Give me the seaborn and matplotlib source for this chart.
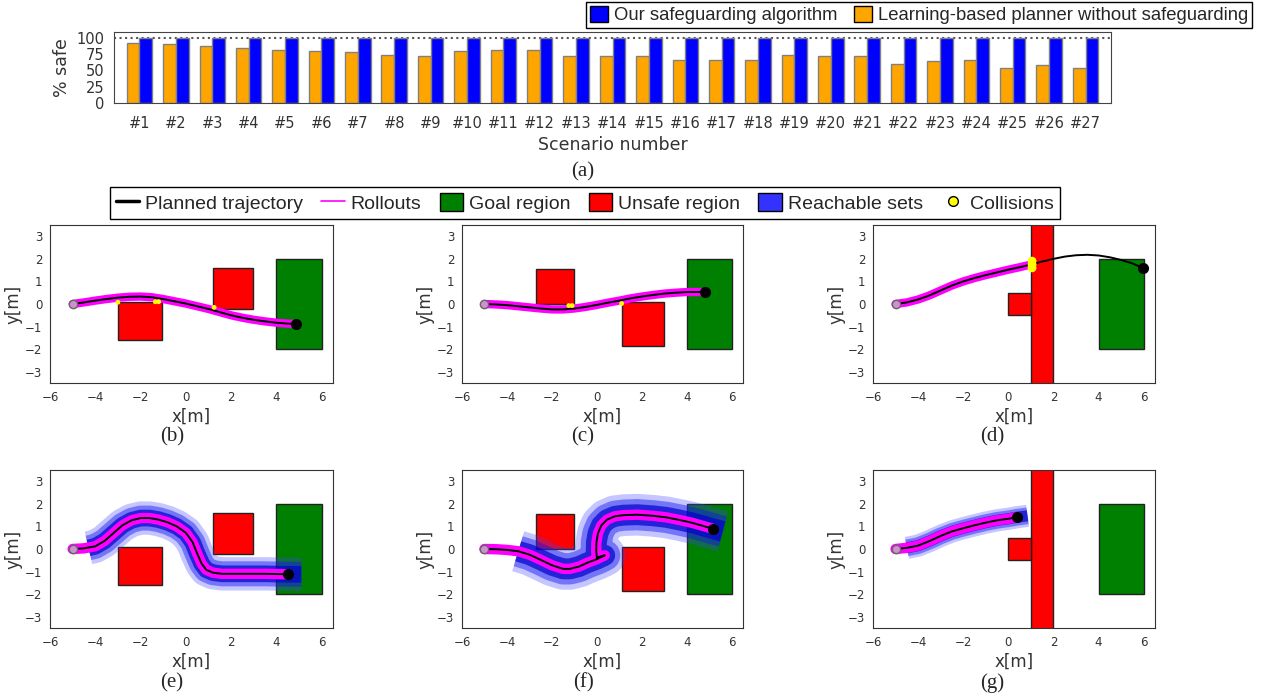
import pandas as pd
import matplotlib
matplotlib.use("Agg")
import matplotlib.pyplot as plt
import seaborn as sns
from matplotlib.patches import Patch, Rectangle
from matplotlib.lines import Line2D

# === Bar chart data ===
scenarios = [f"#{i}" for i in range(1, 28)]
baseline_safe = [92, 90, 88, 84, 82, 80, 78, 74, 72, 80, 82, 82, 72, 72,
                 72, 66, 66, 66, 74, 72, 72, 60, 64, 66, 54, 58, 54]
ours_safe = [100, 100, 100, 100, 100, 100, 100, 100, 100, 100, 100, 100, 100, 100,
             100, 100, 100, 100, 100, 100, 100, 100, 100, 100, 100, 100, 100]
ours_label = "Our safeguarding algorithm"
base_label = "Learning-based planner without safeguarding"

# === Scenario geometry (x, y, width, height) ===
goal = [(4.0, -2.0, 2.0, 4.0)]
unsafe_b = [(-3.0, -1.6, 1.95, 1.7), (1.2, -0.2, 1.75, 1.8)]
unsafe_c = [(-2.7, 0.0, 1.7, 1.55), (1.1, -1.85, 1.9, 1.92)]
unsafe_d = [(1.0, -3.6, 1.0, 7.2), (0.0, -0.5, 1.0, 1.0)]

# === Planned trajectories ===
traj_b_x = [-5, -4.5, -4, -3.5, -3, -2.5, -2, -1.5, -1, -0.5, 0, 0.5, 1, 1.5, 2, 2.5, 3, 3.5, 4, 4.5, 4.85]
traj_b_y = [0, 0.07, 0.15, 0.22, 0.28, 0.32, 0.33, 0.3, 0.22, 0.12, 0.02, -0.1, -0.22, -0.36, -0.5, -0.61, -0.7, -0.77, -0.83, -0.87, -0.88]

traj_c_x = [-5, -4.5, -4, -3.5, -3, -2.5, -2, -1.5, -1, -0.5, 0, 0.5, 1, 1.5, 2, 2.5, 3, 3.5, 4, 4.5, 4.8]
traj_c_y = [0, -0.02, -0.05, -0.1, -0.15, -0.2, -0.24, -0.24, -0.2, -0.13, -0.04, 0.06, 0.15, 0.25, 0.33, 0.4, 0.46, 0.5, 0.53, 0.53, 0.53]

traj_d_x = [-5, -4.5, -4, -3.5, -3, -2.5, -2, -1.5, -1, -0.5, 0, 0.5, 1, 1.5, 2, 2.5, 3, 3.5, 4, 4.5, 5, 5.5, 5.95]
traj_d_y = [0, 0.07, 0.2, 0.38, 0.6, 0.82, 1.0, 1.15, 1.28, 1.4, 1.52, 1.63, 1.75, 1.88, 2.0, 2.1, 2.16, 2.18, 2.15, 2.07, 1.95, 1.8, 1.6]
roll_d_x = [-5, -4.5, -4, -3.5, -3, -2.5, -2, -1.5, -1, -0.5, 0, 0.5, 1.0]
roll_d_y = [0, 0.07, 0.2, 0.38, 0.6, 0.82, 1.0, 1.15, 1.28, 1.4, 1.52, 1.63, 1.75]

traj_e_x = [-5, -4.5, -4, -3.6, -3.2, -2.8, -2.4, -2, -1.6, -1.2, -0.8, -0.4, 0, 0.3, 0.5, 0.7, 0.9, 1.2, 1.6, 2.5, 3.5, 4.5]
traj_e_y = [0, 0.03, 0.12, 0.35, 0.7, 1.05, 1.27, 1.37, 1.37, 1.3, 1.18, 1.0, 0.72, 0.3, -0.2, -0.65, -0.92, -1.05, -1.1, -1.1, -1.1, -1.12]

traj_f_x = [-5, -4.5, -4, -3.5, -3, -2.5, -2, -1.5, -1.2, -0.8, -0.4, 0, 0.35, 0.0, -0.03, -0.02,
            0.05, 0.2, 0.45, 0.8, 1.2, 1.8, 2.5, 3.1, 3.7, 4.2, 4.7, 5.15]
traj_f_y = [0, -0.01, -0.04, -0.1, -0.25, -0.48, -0.72, -0.88, -0.88, -0.78, -0.6, -0.45, -0.28, -0.38, -0.1, 0.3,
            0.7, 1.05, 1.3, 1.45, 1.5, 1.52, 1.47, 1.4, 1.28, 1.17, 1.03, 0.9]

traj_g_x = [-5, -4.5, -4, -3.5, -3, -2.5, -2, -1.5, -1, -0.5, 0, 0.4]
traj_g_y = [0, 0.05, 0.15, 0.35, 0.58, 0.78, 0.92, 1.05, 1.17, 1.27, 1.34, 1.41]

# === Reachable sets (centre line of the tube) ===
reach_e_x = [-4.3, -4, -3.6, -3.2, -2.8, -2.4, -2, -1.6, -1.2, -0.8, -0.4, 0, 0.3, 0.5, 0.7, 0.9, 1.2, 1.6, 2.5, 3.5, 4.5, 5.1]
reach_e_y = [0.05, 0.12, 0.35, 0.7, 1.05, 1.27, 1.37, 1.37, 1.3, 1.18, 1.0, 0.72, 0.3, -0.2, -0.65, -0.92, -1.05, -1.1, -1.1, -1.1, -1.12, -1.12]
reach_f_x = [-3.5, -3, -2.5, -2, -1.5, -1.2, -0.8, -0.4, 0, 0.35, 0.0, -0.03, -0.02,
             0.05, 0.2, 0.45, 0.8, 1.2, 1.8, 2.5, 3.1, 3.7, 4.2, 4.7, 5.15, 5.6]
reach_f_y = [-0.1, -0.25, -0.48, -0.72, -0.88, -0.88, -0.78, -0.6, -0.45, -0.28, -0.38, -0.1, 0.3,
             0.7, 1.05, 1.3, 1.45, 1.5, 1.52, 1.47, 1.4, 1.28, 1.17, 1.03, 0.9, 0.78]
reach_g_x = [-4.5, -4, -3.5, -3, -2.5, -2, -1.5, -1, -0.5, 0, 0.4, 0.85]
reach_g_y = [0.05, 0.15, 0.35, 0.58, 0.78, 0.92, 1.05, 1.17, 1.27, 1.34, 1.41, 1.47]

# === Collisions ===
coll_b_x = [-3.0, -1.35, -1.2, 1.25]
coll_b_y = [0.08, 0.1, 0.1, -0.15]
coll_c_x = [-1.25, -1.1, 1.1]
coll_c_y = [-0.07, -0.07, 0.02]
coll_d_x = [1.05, 1.05, 1.05]
coll_d_y = [1.6, 1.75, 1.9]

W, H = 1271, 698
sns.set_style("white")
plt.rcParams['font.family'] = ['DejaVu Sans']
legend_font = ['Liberation Sans', 'DejaVu Sans']
caption_font = ['Liberation Serif', 'DejaVu Serif']

fig = plt.figure(figsize=(W / 100, H / 100), dpi=100)


def px_axes(l, t, r, b):
    return fig.add_axes([l / W, 1 - b / H, (r - l) / W, (b - t) / H])


def caption(x, y, s):
    fig.text(x / W, 1 - y / H, s, ha='center', va='center', fontsize=15, family=caption_font)


# === (a) bar chart ===
ax = px_axes(114, 32, 1111, 103)
df = pd.DataFrame({
    'scenario': scenarios * 2,
    'safe': baseline_safe + ours_safe,
    'method': [base_label] * 27 + [ours_label] * 27,
})
sns.barplot(data=df, x='scenario', y='safe', hue='method', hue_order=[base_label, ours_label],
            palette=['#ffa500', '#0000ff'], width=0.7, saturation=1, edgecolor='#808080',
            linewidth=1, legend=False, ax=ax)
ax.axhline(100, ls=':', color='#555555', lw=1.5, zorder=0)
ax.set_xlim(-0.7, 26.7)
ax.set_ylim(0, 109)
ax.set_yticks([0, 25, 50, 75, 100])
ax.set_ylabel("% safe", fontsize=12.5, color='#333333', labelpad=4)
ax.set_xlabel("Scenario number", fontsize=12.5, color='#333333', labelpad=4)
ax.tick_params(labelsize=10.5, colors='#333333', length=4, pad=3)
ax.tick_params(axis='x', length=4, pad=5)
for sp in ax.spines.values():
    sp.set_color('#444444')
caption(583, 172, "(a)")

bar_handles = [Patch(facecolor='#0000ff', edgecolor='black', label=ours_label),
               Patch(facecolor='#ffa500', edgecolor='black', label=base_label)]
leg = fig.legend(handles=bar_handles, loc='center', bbox_to_anchor=(919 / W, 1 - 15 / H), ncol=2,
                 frameon=True, fancybox=False, edgecolor='black', framealpha=1,
                 prop={'family': legend_font, 'size': 13.3}, handlelength=1.0, handleheight=1.0,
                 handletextpad=0.3, columnspacing=0.9, borderpad=0.2, borderaxespad=0)
leg.get_frame().set_linewidth(1)


# === trajectory panels ===
def draw_panel(ax, unsafe, tx, ty, rx=None, ry=None, qx=None, qy=None, reach_w=None,
               cx=None, cy=None, coll_size=12):
    for (x, y, w, h) in goal:
        ax.add_patch(Rectangle((x, y), w, h, facecolor='#008000', edgecolor='#222222', lw=1, zorder=1))
    for (x, y, w, h) in unsafe:
        ax.add_patch(Rectangle((x, y), w, h, facecolor='#ff0000', edgecolor='#222222', lw=1, zorder=1))
    if qx is not None:
        for lw, a, c in [(reach_w, 0.3, '#4040ff'), (reach_w * 0.75, 0.45, '#1515ee'),
                         (reach_w * 0.5, 0.7, '#0000cc')]:
            sns.lineplot(x=qx, y=qy, sort=False, estimator=None, ax=ax, color=c, lw=lw, alpha=a,
                         solid_capstyle='butt', solid_joinstyle='round', zorder=2)
    if rx is None:
        rx, ry = tx, ty
    sns.lineplot(x=rx, y=ry, sort=False, estimator=None, ax=ax, color='#ff00ff',
                 lw=6 if qx is None else 7.5, solid_capstyle='round', zorder=3)
    sns.lineplot(x=tx, y=ty, sort=False, estimator=None, ax=ax, color='black', lw=1.4, zorder=4)
    if cx is not None:
        sns.scatterplot(x=cx, y=cy, ax=ax, color='#ffff00', s=coll_size, edgecolor='none', zorder=5)
    ax.plot(tx[:1], ty[:1], 'o', ms=6, mfc='#d090d0', mec='#666666', mew=1, zorder=6)
    ax.plot(tx[-1:], ty[-1:], 'o', ms=7, color='black', zorder=6)
    ax.set_xlim(-6, 6.5)
    ax.set_ylim(-3.5, 3.5)
    ax.set_xticks([-6, -4, -2, 0, 2, 4, 6])
    ax.set_yticks([-3, -2, -1, 0, 1, 2, 3])
    ax.tick_params(labelsize=8.5, colors='#333333', length=3.5, pad=2)
    ax.set_xlabel("x[m]", fontsize=12, color='#333333', labelpad=3)
    ax.set_ylabel("y[m]", fontsize=12, color='#333333', labelpad=2)
    for sp in ax.spines.values():
        sp.set_color('#333333')


cols = [(50, 333, 172), (462, 743, 583), (873, 1155, 992)]
top_row = (225, 383, 437)
bot_row = (470, 628, 683)

ax_b = px_axes(cols[0][0], top_row[0], cols[0][1], top_row[1])
draw_panel(ax_b, unsafe_b, traj_b_x, traj_b_y, cx=coll_b_x, cy=coll_b_y)
ax_c = px_axes(cols[1][0], top_row[0], cols[1][1], top_row[1])
draw_panel(ax_c, unsafe_c, traj_c_x, traj_c_y, cx=coll_c_x, cy=coll_c_y)
ax_d = px_axes(cols[2][0], top_row[0], cols[2][1], top_row[1])
draw_panel(ax_d, unsafe_d, traj_d_x, traj_d_y, rx=roll_d_x, ry=roll_d_y, cx=coll_d_x, cy=coll_d_y, coll_size=40)
ax_e = px_axes(cols[0][0], bot_row[0], cols[0][1], bot_row[1])
draw_panel(ax_e, unsafe_b, traj_e_x, traj_e_y, qx=reach_e_x, qy=reach_e_y, reach_w=24)
ax_f = px_axes(cols[1][0], bot_row[0], cols[1][1], bot_row[1])
draw_panel(ax_f, unsafe_c, traj_f_x, traj_f_y, qx=reach_f_x, qy=reach_f_y, reach_w=30)
ax_g = px_axes(cols[2][0], bot_row[0], cols[2][1], bot_row[1])
draw_panel(ax_g, unsafe_d, traj_g_x, traj_g_y, qx=reach_g_x, qy=reach_g_y, reach_w=16)

for lbl, (l, r, cxp) in zip(["(b)", "(c)", "(d)"], cols):
    caption(cxp, top_row[2], lbl)
for lbl, (l, r, cxp) in zip(["(e)", "(f)", "(g)"], cols):
    caption(cxp, bot_row[2], lbl)

panel_handles = [
    Line2D([], [], color='black', lw=2.5, label='Planned trajectory'),
    Line2D([], [], color='#ff00ff', lw=1.2, label='Rollouts'),
    Patch(facecolor='#008000', edgecolor='black', label='Goal region'),
    Patch(facecolor='#ff0000', edgecolor='black', label='Unsafe region'),
    Patch(facecolor='#3333ff', edgecolor='black', label='Reachable sets'),
    Line2D([], [], marker='o', ls='none', mfc='#ffff00', mec='black', ms=7, label='Collisions'),
]
leg2 = fig.legend(handles=panel_handles, loc='center', bbox_to_anchor=(585 / W, 1 - 203 / H), ncol=6,
                  frameon=True, fancybox=False, edgecolor='black', framealpha=1,
                  prop={'family': legend_font, 'size': 14}, handlelength=1.2, handleheight=1.0,
                  handletextpad=0.3, columnspacing=0.95, borderpad=0.3, borderaxespad=0)
leg2.get_frame().set_linewidth(1)

fig.savefig("out.png", dpi=100)
